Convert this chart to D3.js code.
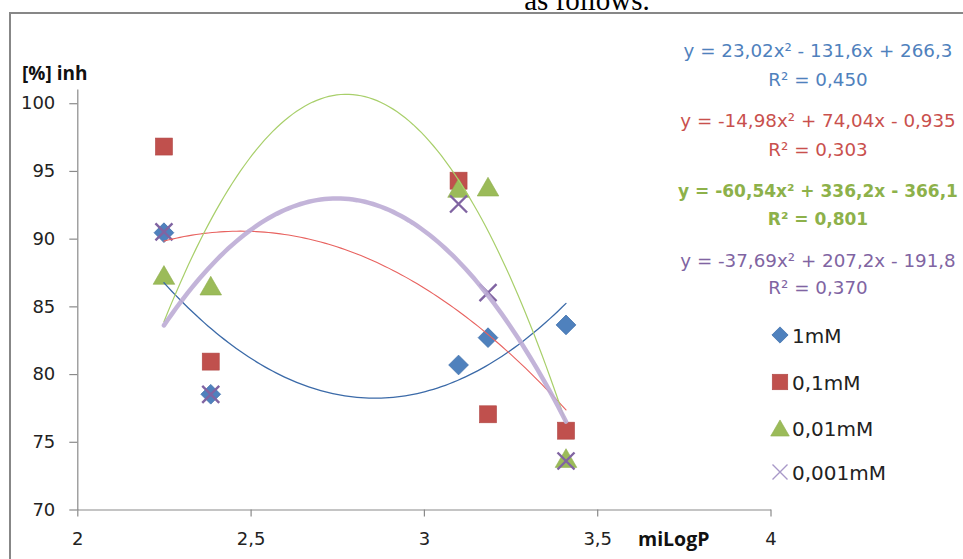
<!DOCTYPE html>
<html>
<head>
<meta charset="utf-8">
<script src="https://cdn.jsdelivr.net/npm/d3@7"></script>
<style>
  html, body { margin: 0; padding: 0; background: #fff; }
  svg { display: block; }
</style>
</head>
<body>
<svg id="chart" width="963" height="559"></svg>
<script>
// ---- data ----
const xValues = [2.25, 2.385, 3.10, 3.185, 3.41];
const seriesNames = ["1mM", "0,1mM", "0,01mM", "0,001mM"];
const values1mM = [90.44, 78.51, 80.67, 82.69, 83.63];
const values01mM = [96.8, 80.92, 94.28, 77.03, 75.82];
const values001mM = [87.32, 86.53, 93.74, 93.84, 73.8];
const values0001mM = [90.5, 78.5, 92.56, 86.01, 73.58];
// trendline coefficients (a, b, c) for y = a x^2 + b x + c, as printed on the chart
const trendCoefs = [
  [23.02, -131.6, 266.3],
  [-14.98, 74.04, -0.935],
  [-60.54, 336.2, -366.1],
  [-37.69, 207.2, -191.8]
];
const equationTexts = [
  "y = 23,02x² - 131,6x + 266,3",
  "y = -14,98x² + 74,04x - 0,935",
  "y = -60,54x² + 336,2x - 366,1",
  "y = -37,69x² + 207,2x - 191,8"
];
const r2Texts = ["R² = 0,450", "R² = 0,303", "R² = 0,801", "R² = 0,370"];
const xTicks = [2, 2.5, 3, 3.5, 4];
const yTicks = [70, 75, 80, 85, 90, 95, 100];
const xTitle = "miLogP";
const yTitle = "[%] inh";
const captionText = "as follows.";

// ---- styles ----
const allValues = [values1mM, values01mM, values001mM, values0001mM];
const markerColors = ["#4F81BD", "#C0504D", "#9BBB59", "#8064A2"];
const trendColors = ["#3B6AA8", "#E8625F", "#A8CF6A", "#BCACD5"];
const trendWidths = [1.3, 1.1, 1.2, 4.5];
const eqColors = ["#4F81BD", "#C9504D", "#8DB14A", "#8064A2"];
const shapes = ["diamond", "square", "triangle", "cross"];

const svg = d3.select("#chart");
const FONT = "'DejaVu Sans', sans-serif";

// caption text from the document (clipped at the top, as in the source)
svg.append("text")
  .attr("x", 587).attr("y", 10)
  .attr("text-anchor", "middle")
  .attr("font-family", "'Liberation Serif', serif")
  .attr("font-size", 29)
  .attr("fill", "#000")
  .text(captionText);

// chart frame (extends beyond the picture at right and bottom)
svg.append("rect")
  .attr("x", 10).attr("y", 13)
  .attr("width", 1000).attr("height", 600)
  .attr("fill", "#fff")
  .attr("stroke", "#878787")
  .attr("stroke-width", 2);

const x = d3.scaleLinear().domain([2, 4]).range([77.3, 770.5]);
const y = d3.scaleLinear().domain([70, 101.05]).range([509.5, 89]);
const fmt = d => String(d).replace(".", ",");

// axes
const yAxis = svg.append("g")
  .attr("transform", `translate(${x(2)},0)`)
  .call(d3.axisLeft(y).tickValues(yTicks).tickFormat(fmt).tickSize(8).tickSizeOuter(0).tickPadding(14));
const xAxis = svg.append("g")
  .attr("transform", `translate(0,${y(70)})`)
  .call(d3.axisBottom(x).tickValues(xTicks).tickFormat(fmt).tickSize(7).tickSizeOuter(0).tickPadding(16));
[yAxis, xAxis].forEach(g => {
  g.select(".domain").attr("stroke", "#8a8a8a").attr("stroke-width", 1.2);
  g.selectAll(".tick line").attr("stroke", "#8a8a8a").attr("stroke-width", 1.2);
  g.selectAll(".tick text")
    .attr("font-family", FONT)
    .attr("font-size", 18)
    .attr("fill", "#222");
});

// axis titles
svg.append("text")
  .attr("x", 22).attr("y", 80)
  .attr("font-family", "'Open Sans', sans-serif")
  .attr("font-weight", "bold")
  .attr("font-size", 19)
  .attr("fill", "#111")
  .text(yTitle);
svg.append("text")
  .attr("x", 638).attr("y", 546)
  .attr("font-family", "'Open Sans', sans-serif")
  .attr("font-weight", "bold")
  .attr("font-size", 19.5)
  .attr("fill", "#111")
  .text(xTitle);

// marker drawing
function drawMarker(g, shape, cx, cy, color, s) {
  if (shape === "diamond") {
    const h = s * 0.58;
    g.append("path")
      .attr("d", `M${cx},${cy - h}L${cx + h},${cy}L${cx},${cy + h}L${cx - h},${cy}Z`)
      .attr("fill", color).attr("stroke", "#3F70AC").attr("stroke-width", 0.8);
  } else if (shape === "square") {
    const h = s / 2;
    g.append("rect")
      .attr("x", cx - h).attr("y", cy - h).attr("width", s).attr("height", s)
      .attr("fill", color).attr("stroke", "#B04744").attr("stroke-width", 0.6);
  } else if (shape === "triangle") {
    const w = s * 0.6, hh = s * 0.52;
    g.append("path")
      .attr("d", `M${cx},${cy - hh}L${cx + w},${cy + hh}L${cx - w},${cy + hh}Z`)
      .attr("fill", color).attr("stroke", "#8EAE4E").attr("stroke-width", 0.6);
  } else {
    const h = s / 2;
    g.append("path")
      .attr("d", `M${cx - h},${cy - h}L${cx + h},${cy + h}M${cx - h},${cy + h}L${cx + h},${cy - h}`)
      .attr("stroke", color).attr("stroke-width", 2.4).attr("fill", "none");
  }
}

// data markers
const sizes = [17, 17, 18, 17];
allValues.forEach((vals, i) => {
  const g = svg.append("g");
  vals.forEach((v, j) => drawMarker(g, shapes[i], x(xValues[j]), y(v), markerColors[i], sizes[i]));
});

// trendlines (polynomial order 2, drawn over data range)
const xMin = d3.min(xValues), xMax = d3.max(xValues);
const xs = d3.range(0, 101).map(k => xMin + (xMax - xMin) * k / 100);
const line = d3.line().x(d => x(d[0])).y(d => y(d[1])).curve(d3.curveLinear);
trendCoefs.forEach((c, i) => {
  const pts = xs.map(t => [t, c[0] * t * t + c[1] * t + c[2]]);
  svg.append("path")
    .attr("d", line(pts))
    .attr("fill", "none")
    .attr("stroke", trendColors[i])
    .attr("stroke-width", trendWidths[i])
    .attr("stroke-linecap", "round")
    .attr("opacity", i === 3 ? 0.9 : 1);
});

// equations
const eqBaselines = [[57, 86], [127, 156], [197, 225], [267, 294]];
equationTexts.forEach((t, i) => {
  const bold = i === 2;
  const fs = bold ? 17 : 18.3;
  [t, r2Texts[i]].forEach((txt, k) => {
    svg.append("text")
      .attr("x", 818).attr("y", eqBaselines[i][k])
      .attr("text-anchor", "middle")
      .attr("font-family", FONT)
      .attr("font-weight", bold ? "bold" : "normal")
      .attr("font-size", fs)
      .attr("fill", eqColors[i])
      .text(txt);
  });
});

// legend
const legendY = [335, 382, 428, 472];
seriesNames.forEach((name, i) => {
  const g = svg.append("g");
  const cy = legendY[i];
  if (shapes[i] === "cross") {
    const h = 7.5;
    g.append("path")
      .attr("d", `M${780 - h},${cy - h}L${780 + h},${cy + h}M${780 - h},${cy + h}L${780 + h},${cy - h}`)
      .attr("stroke", "#A898C8").attr("stroke-width", 1.4).attr("fill", "none");
  } else {
    drawMarker(g, shapes[i], 780, cy, markerColors[i], shapes[i] === "diamond" ? 14 : 15.5);
  }
  g.append("text")
    .attr("x", 792).attr("y", cy + 7.5)
    .attr("font-family", FONT)
    .attr("font-size", 20)
    .attr("fill", "#222")
    .text(name);
});
</script>
</body>
</html>
